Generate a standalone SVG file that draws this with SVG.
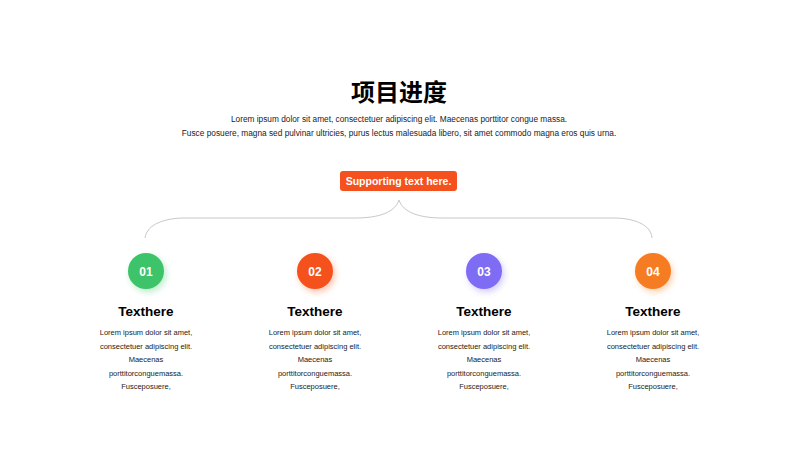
<svg xmlns="http://www.w3.org/2000/svg" width="800" height="450" viewBox="0 0 800 450">
<defs>
<style>
.t{font-family:"Liberation Sans",Arial,sans-serif;text-anchor:middle}
.title{font-family:"Liberation Sans","Noto Sans CJK SC",sans-serif;font-weight:bold;font-size:24px;fill:#000;text-anchor:middle}
.sub{font-size:8.3px;fill:#222}
.num{font-size:12px;font-weight:bold;fill:#fff}
.h{font-size:13.5px;font-weight:bold;fill:#000}
.d{font-size:7.5px;fill:#222}
.brace{fill:none;stroke:#c8c8c8;stroke-width:1}
</style>
<filter id="sh" x="-50%" y="-50%" width="200%" height="200%">
<feGaussianBlur in="SourceGraphic" stdDeviation="3"/>
<feOffset dx="2" dy="3" result="b"/>
<feComponentTransfer in="b" result="c"><feFuncA type="linear" slope="0.35"/></feComponentTransfer>
<feMerge><feMergeNode in="c"/><feMergeNode in="SourceGraphic"/></feMerge>
</filter>
</defs>
<rect width="800" height="450" fill="#fff"/>
<g id="header">
<text class="title" x="399" y="101">项目进度</text>
<text class="t sub" x="399" y="122">Lorem ipsum dolor sit amet, consectetuer adipiscing elit. Maecenas porttitor congue massa.</text>
<text class="t sub" x="399" y="135.5">Fusce posuere, magna sed pulvinar ultricies, purus lectus malesuada libero, sit amet commodo magna eros quis urna.</text>
</g>
<g id="support">
<rect x="340" y="171" width="117" height="20" rx="3" fill="#F4511E"/>
<text class="t" x="398.5" y="185" font-size="10.5" font-weight="bold" fill="#fff">Supporting text here.</text>
</g>
<g id="connectors">
<path class="brace" d="M145,238 C147,224 165,218 185,218 L355,218 C380,218 395,212 399,200 C403,212 418,218 443,218 L613,218 C633,218 651,224 652,238"/>
</g>
<g id="step1">
<circle cx="146" cy="271" r="18" fill="#3CC46A" filter="url(#sh)"/>
<text class="t num" x="146" y="275.5">01</text>
<text class="t h" x="146" y="316">Texthere</text>
<text class="t d" x="146" y="335">Lorem ipsum dolor sit amet,</text>
<text class="t d" x="146" y="349">consectetuer adipiscing elit.</text>
<text class="t d" x="146" y="362">Maecenas</text>
<text class="t d" x="146" y="376">porttitorconguemassa.</text>
<text class="t d" x="146" y="389">Fusceposuere,</text>
</g>
<g id="step2">
<circle cx="315" cy="271" r="18" fill="#F4511E" filter="url(#sh)"/>
<text class="t num" x="315" y="275.5">02</text>
<text class="t h" x="315" y="316">Texthere</text>
<text class="t d" x="315" y="335">Lorem ipsum dolor sit amet,</text>
<text class="t d" x="315" y="349">consectetuer adipiscing elit.</text>
<text class="t d" x="315" y="362">Maecenas</text>
<text class="t d" x="315" y="376">porttitorconguemassa.</text>
<text class="t d" x="315" y="389">Fusceposuere,</text>
</g>
<g id="step3">
<circle cx="484" cy="271" r="18" fill="#7E6CF5" filter="url(#sh)"/>
<text class="t num" x="484" y="275.5">03</text>
<text class="t h" x="484" y="316">Texthere</text>
<text class="t d" x="484" y="335">Lorem ipsum dolor sit amet,</text>
<text class="t d" x="484" y="349">consectetuer adipiscing elit.</text>
<text class="t d" x="484" y="362">Maecenas</text>
<text class="t d" x="484" y="376">porttitorconguemassa.</text>
<text class="t d" x="484" y="389">Fusceposuere,</text>
</g>
<g id="step4">
<circle cx="653" cy="271" r="18" fill="#F57C20" filter="url(#sh)"/>
<text class="t num" x="653" y="275.5">04</text>
<text class="t h" x="653" y="316">Texthere</text>
<text class="t d" x="653" y="335">Lorem ipsum dolor sit amet,</text>
<text class="t d" x="653" y="349">consectetuer adipiscing elit.</text>
<text class="t d" x="653" y="362">Maecenas</text>
<text class="t d" x="653" y="376">porttitorconguemassa.</text>
<text class="t d" x="653" y="389">Fusceposuere,</text>
</g>
</svg>
